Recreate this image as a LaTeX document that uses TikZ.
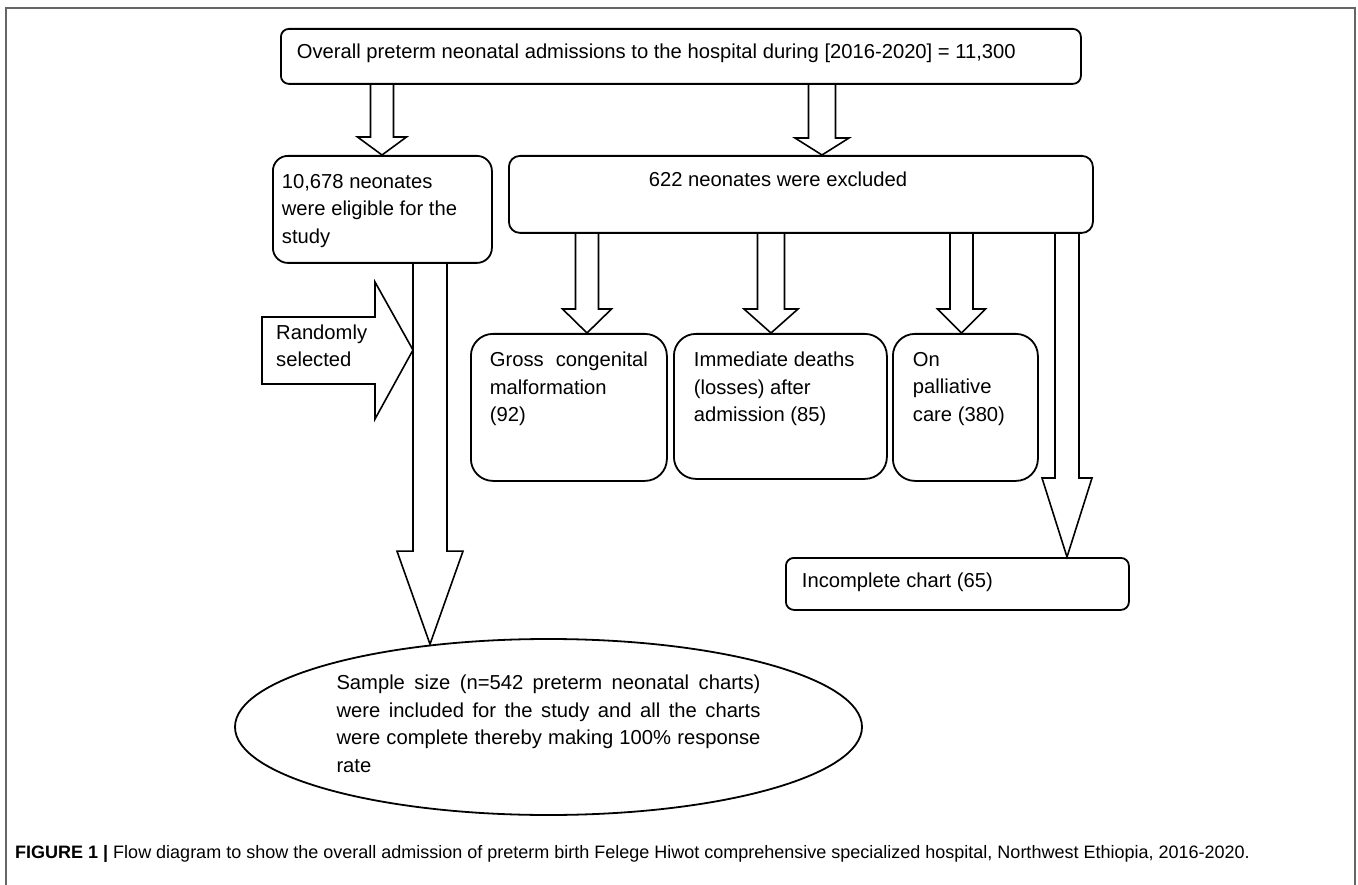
\documentclass[tikz,border=0pt]{standalone}
\usepackage{fontspec}
\setmainfont{Liberation Sans}
\usetikzlibrary{calc,shapes.geometric}

\newcommand{\hollowdown}[6]{%
  \draw[arrowline] let \p1=(#2), \p2=(#3) in
    ({#1pt-#4pt},\y1) -- ({#1pt-#4pt},{\y2+#6pt}) -- ({#1pt-#5pt},{\y2+#6pt})
    -- (#1pt,\y2) -- ({#1pt+#5pt},{\y2+#6pt}) -- ({#1pt+#4pt},{\y2+#6pt}) -- ({#1pt+#4pt},\y1);}

\begin{document}
\begin{tikzpicture}[x=1pt, y=-1pt,
  box/.style={draw, line width=1.8pt, anchor=north west, inner sep=0pt},
  arrowline/.style={line width=1.6pt, line join=miter},
  every node/.style={font=\fontsize{20.2}{27.5}\selectfont}]
  \useasboundingbox (0,0) rectangle (1358,885);
  \draw[black!60, line width=1.2pt] (6,8) rectangle (1355,900);

  \node[box, rounded corners=8pt, inner xsep=16pt, inner ysep=15pt] (overall) at (280,28)
    {\parbox[c][25pt][t]{768pt}{Overall preterm neonatal admissions to the hospital during [2016-2020] = 11,300}};
  \node[box, rounded corners=15pt, inner xsep=9pt, inner ysep=18pt] (elig) at (272,155)
    {\parbox[c][71pt][t]{201pt}{10,678 neonates\\were eligible for the\\study}};
  \node[box, rounded corners=11pt, inner xsep=140pt, inner ysep=16pt] (excl) at (508,155)
    {\parbox[c][45pt][t]{304pt}{622 neonates were excluded}};
  \node[box, rounded corners=22pt, inner xsep=19pt, inner ysep=18pt] (gross) at (470,333)
    {\parbox[c][111pt][t]{158pt}{Gross\hfill congenital\\malformation\\(92)}};
  \node[box, rounded corners=22pt, inner xsep=20pt, inner ysep=18pt] (immed) at (673,333)
    {\parbox[c][109pt][t]{173pt}{Immediate deaths\\(losses) after\\admission (85)}};
  \node[box, rounded corners=22pt, inner xsep=20pt, inner ysep=18pt] (pall) at (892,333)
    {\parbox[c][111pt][t]{105pt}{On\\palliative\\care (380)}};
  \node[box, rounded corners=8pt, inner xsep=16pt, inner ysep=15pt] (incomp) at (785,557)
    {\parbox[c][22pt][t]{311pt}{Incomplete chart (65)}};
  \node[draw, ellipse, line width=1.8pt, inner sep=0pt, minimum width=627pt, minimum height=176pt] (sample) at (548.5,727)
    {\parbox[c][104pt][t]{424pt}{Sample size (n=542 preterm neonatal charts)\linebreak
      were included for the study and all the charts\linebreak
      were complete thereby making 100\% response\linebreak rate}};

  \hollowdown{382}{overall.south}{elig.north}{11.5}{24.5}{18}
  \hollowdown{822}{overall.south}{excl.north}{13.5}{27}{17}
  \hollowdown{587}{excl.south}{gross.north}{11.5}{24.5}{24}
  \hollowdown{771}{excl.south}{immed.north}{13.5}{27}{24}
  \hollowdown{961.5}{excl.south}{pall.north}{11.5}{24}{24}
  \hollowdown{1067}{excl.south}{incomp.north}{12}{25}{79}
  \hollowdown{430}{elig.south}{sample.144}{17}{33}{93}

  \draw[arrowline] (262,317) -- (375,317) -- (375,282) -- (413,350) -- (375,419) -- (375,384) -- (262,384) -- cycle;
  \node[anchor=west, align=left, inner sep=0pt] (rand) at (276,346) {Randomly\\selected};

  \node[anchor=base west, inner sep=0pt, font=\fontsize{18}{22}\selectfont] (caption) at (15,858)
    {\textbf{FIGURE 1 |} Flow diagram to show the overall admission of preterm birth Felege Hiwot comprehensive specialized hospital, Northwest Ethiopia, 2016-2020.};
\end{tikzpicture}
\end{document}
